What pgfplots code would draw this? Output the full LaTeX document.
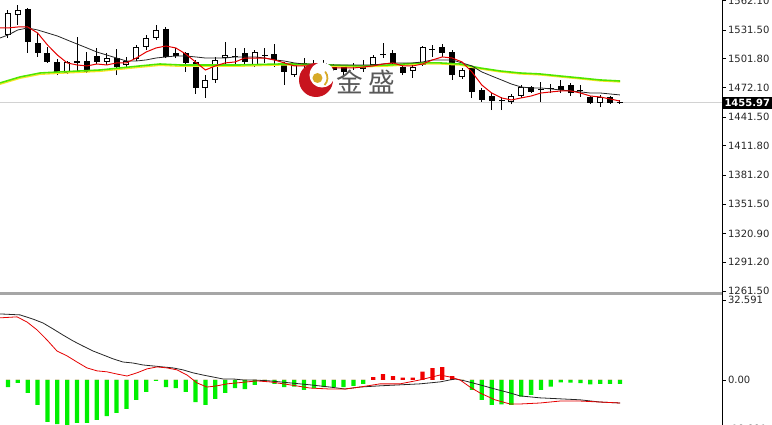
\documentclass[border=0pt]{standalone}
\usepackage{fontspec}
\setmainfont{DejaVu Sans}
\newfontfamily\cjk{Noto Sans CJK SC}
\usepackage{pgfplots}
\usepackage{pgfplotstable}
\pgfplotsset{compat=1.18}

\definecolor{maGreen}{RGB}{80,230,0}
\definecolor{maYellow}{RGB}{250,230,40}
\definecolor{histGreen}{RGB}{0,240,0}
\definecolor{histRed}{RGB}{240,0,0}
\definecolor{logoRed}{RGB}{200,20,30}
\definecolor{logoGold}{RGB}{215,170,40}

% candles: index, open, high, low, close
\pgfplotstableread{
i O H L C
0 1526.3 1552.2 1523.2 1549.1
1 1547.0 1557.4 1536.7 1552.2
2 1553.2 1554.3 1507.7 1519.1
3 1518.0 1528.4 1503.6 1507.7
4 1507.7 1513.9 1497.4 1498.4
5 1498.4 1501.5 1484.9 1487.0
6 1487.0 1499.4 1486.0 1498.4
7 1497.4 1524.2 1488.1 1499.4
8 1499.4 1508.7 1487.0 1488.1
9 1504.6 1512.9 1496.3 1498.4
10 1498.4 1507.7 1495.3 1502.5
11 1502.5 1511.8 1484.9 1493.2
12 1495.3 1503.6 1493.2 1499.4
13 1501.5 1516.0 1499.4 1513.9
14 1513.9 1526.3 1510.8 1523.2
15 1523.2 1536.7 1521.1 1531.5
16 1532.5 1534.6 1502.5 1503.6
17 1507.7 1512.9 1502.5 1504.6
18 1507.7 1508.7 1488.1 1497.4
19 1498.4 1500.5 1465.3 1471.5
20 1471.5 1484.9 1461.2 1479.8
21 1479.8 1503.6 1476.7 1500.5
22 1502.5 1519.1 1493.2 1505.6
23 1503.6 1512.9 1493.2 1504.6
24 1507.7 1512.9 1495.3 1498.4
25 1495.3 1510.8 1493.2 1508.7
26 1505.6 1512.9 1497.4 1504.6
27 1506.7 1517.0 1493.2 1500.5
28 1495.3 1498.4 1474.6 1488.1
29 1484.9 1497.4 1482.9 1495.3
30 1496.3 1502.5 1492.2 1497.4
31 1492.2 1500.5 1490.1 1496.3
32 1497.4 1500.5 1491.2 1494.3
33 1493.2 1496.3 1488.1 1490.1
34 1493.2 1495.3 1484.9 1488.1
35 1493.2 1497.4 1490.1 1494.3
36 1491.2 1500.5 1488.1 1493.2
37 1495.3 1505.6 1493.2 1503.6
38 1505.6 1518.0 1502.5 1506.7
39 1507.7 1510.8 1495.3 1497.4
40 1493.2 1496.3 1484.9 1487.0
41 1489.1 1495.3 1481.9 1493.2
42 1495.3 1514.9 1494.3 1513.9
43 1510.8 1516.0 1503.6 1511.8
44 1513.9 1517.0 1503.6 1507.7
45 1508.7 1510.8 1479.8 1484.9
46 1482.9 1492.2 1480.8 1490.1
47 1492.2 1493.2 1461.2 1467.4
48 1469.4 1471.5 1457.0 1459.1
49 1463.2 1466.3 1448.7 1458.0
50 1458.0 1462.2 1448.7 1459.1
51 1457.0 1465.3 1454.9 1463.2
52 1463.2 1474.6 1461.2 1472.5
53 1472.5 1473.6 1466.3 1467.4
54 1469.4 1477.7 1457.0 1470.5
55 1470.5 1475.6 1466.3 1471.5
56 1473.6 1479.8 1466.3 1469.4
57 1474.6 1476.7 1463.2 1466.3
58 1469.4 1474.6 1462.2 1468.4
59 1462.2 1463.2 1454.9 1456.0
60 1456.0 1464.3 1451.8 1462.2
61 1462.2 1463.2 1454.9 1456.0
62 1457.0 1459.1 1455.0 1455.97
}\ohlc

% moving averages
\pgfplotstableread{
i red black
-0.81 1533.6 1523.2
0 1533.6 1526.3
1 1534.6 1531.5
2 1534.6 1533.6
3 1528.4 1531.5
4 1516.0 1528.4
5 1505.6 1525.3
6 1497.4 1521.1
7 1495.3 1517.0
8 1494.3 1512.9
9 1496.3 1508.7
10 1495.3 1505.6
11 1497.4 1502.5
12 1497.4 1499.4
13 1502.5 1499.4
14 1508.7 1500.5
15 1512.9 1502.5
16 1514.9 1503.6
17 1512.9 1504.6
18 1506.7 1504.6
19 1498.4 1503.6
20 1490.1 1502.5
21 1494.3 1502.5
22 1497.4 1502.5
23 1498.4 1503.6
24 1502.5 1503.6
25 1502.5 1503.6
26 1502.5 1502.5
27 1500.5 1500.5
28 1497.4 1499.4
29 1494.3 1497.4
30 1494.3 1496.3
31 1494.3 1496.3
32 1494.3 1495.3
33 1492.2 1495.3
34 1492.2 1495.3
35 1492.2 1495.3
36 1493.2 1495.3
37 1494.3 1495.3
38 1496.3 1496.3
39 1497.4 1497.4
40 1494.3 1497.4
41 1494.3 1497.4
42 1496.3 1498.4
43 1500.5 1500.5
44 1503.6 1500.5
45 1502.5 1500.5
46 1498.4 1497.4
47 1488.1 1494.3
48 1474.6 1488.1
49 1466.3 1483.9
50 1461.2 1479.8
51 1459.1 1475.6
52 1461.2 1472.5
53 1463.2 1471.5
54 1466.3 1471.5
55 1467.4 1470.5
56 1468.4 1469.4
57 1468.4 1468.4
58 1466.3 1467.4
59 1463.2 1466.3
60 1462.2 1466.3
61 1460.1 1465.3
62 1458.0 1464.3
}\mas

\pgfplotstableread{
i green yellow
-0.81 1476.7 1475.3
1.22 1482.9 1481.5
3.24 1487.0 1485.6
5.27 1488.1 1486.7
7.29 1489.1 1487.7
9.32 1490.1 1488.7
11.35 1492.2 1490.8
13.37 1494.3 1492.9
15.40 1496.3 1494.9
17.43 1495.3 1493.9
19.45 1495.3 1493.9
23.51 1495.3 1494.0
27.56 1496.3 1495.2
29.58 1496.3 1495.2
32.62 1495.3 1494.2
35.66 1494.3 1493.2
38.70 1495.3 1494.2
41.74 1497.4 1496.3
43.77 1497.4 1496.3
45.80 1496.3 1495.2
47.82 1492.2 1491.2
49.85 1489.1 1488.1
51.87 1487.0 1486.0
53.90 1486.0 1485.0
55.93 1483.9 1482.9
57.95 1481.9 1480.9
59.98 1479.8 1478.8
62.01 1478.7 1477.7
}\slow

% MACD histogram
\pgfplotstableread{
i h
0 -2.9
1 -1.2
2 -5.3
3 -10.2
4 -17.1
5 -18.0
6 -18.3
7 -17.5
8 -17.5
9 -16.3
10 -14.7
11 -13.4
12 -11.8
13 -8.1
14 -4.9
15 -0.4
16 -2.9
17 -3.3
18 -4.9
19 -9.0
20 -10.2
21 -7.7
22 -5.3
23 -3.3
24 -3.7
25 -2.0
26 -0.6
27 -1.6
28 -2.9
29 -2.7
30 -4.1
31 -3.4
32 -2.9
33 -2.9
34 -2.9
35 -2.4
36 -1.6
37 1.1
38 2.4
39 1.6
40 0.9
41 0.9
42 3.4
43 4.8
44 5.2
45 1.6
46 0.0
47 -4.1
48 -8.1
49 -10.2
50 -10.0
51 -10.2
52 -6.8
53 -6.1
54 -4.1
55 -2.7
56 -1.0
57 -1.1
58 -1.3
59 -1.8
60 -1.6
61 -1.6
62 -1.6
}\hist

\pgfplotstableread{
i v
-0.81 26.9
1.22 26.5
2.53 24.8
3.55 23.2
4.56 20.8
5.57 18.3
6.59 15.9
7.60 13.8
8.61 11.8
9.63 10.2
10.64 8.6
11.65 7.3
12.66 6.9
13.68 6.1
14.69 5.7
15.70 5.3
16.72 4.9
17.73 4.1
18.74 2.9
19.76 2.0
20.77 1.2
21.78 0.4
22.80 0.4
23.81 0.0
24.82 0.0
26.55 -0.4
28.57 -1.2
30.60 -2.0
32.62 -2.9
34.14 -3.7
35.66 -2.9
37.69 -2.4
39.72 -2.0
41.74 -1.6
43.77 -0.8
45.29 0.4
46.30 -0.4
47.82 -2.0
49.34 -3.7
50.86 -5.3
51.87 -6.5
53.90 -7.3
55.93 -7.7
57.95 -8.1
59.98 -9.0
62.01 -9.4
}\macdblack

\pgfplotstableread{
i v
-0.81 25.3
0.91 25.7
1.93 23.6
2.94 20.4
3.95 16.3
4.96 11.8
5.98 9.8
6.99 7.3
8.00 4.9
9.02 3.7
10.03 3.3
11.04 2.4
12.06 1.6
13.07 2.9
14.08 4.5
15.10 5.3
16.11 4.9
17.12 4.1
18.14 2.0
19.15 -1.2
20.16 -2.9
21.18 -2.4
22.19 -1.6
23.20 -1.2
24.21 -0.8
25.23 -0.4
26.55 -0.8
28.57 -2.0
30.60 -3.3
32.62 -3.7
34.14 -3.7
35.66 -2.9
37.69 -1.6
39.72 -1.6
41.74 0.0
43.77 2.0
44.78 1.2
45.80 0.0
46.81 -2.9
47.82 -5.3
49.34 -8.1
50.86 -9.8
51.87 -9.8
53.90 -9.4
55.93 -8.6
57.95 -8.6
59.98 -9.0
62.01 -9.4
}\macdred

\pgfplotsset{
  panel/.style={
    scale only axis, width=541.5pt, anchor=south west,
    xmin=-0.81, xmax=72.34,
    axis x line=none, axis y line*=right,
    y axis line style={black, line width=0.75pt},
    tick align=outside, major tick length=3pt,
    ytick style={black, line width=0.6pt},
    yticklabel style={font=\fontsize{7.5}{9}\selectfont, text=black!85, anchor=west, xshift=-2pt},
  },
  candle/.style 2 args={draw=none, mark=none, forget plot,
    error bars/.cd, y dir=plus, y explicit, error mark=none,
    error bar style={draw=#1, line width=#2, line cap=butt}},
}

\begin{document}
\begin{tikzpicture}
\useasboundingbox (0,0) rectangle (579pt,318.75pt);
\clip (0,0) rectangle (579pt,318.75pt);

% price panel
\begin{axis}[panel, at={(0pt,100.5pt)}, height=218.25pt,
  ymin=1261.5, ymax=1562.5, clip=false,
  ytick={1261.5,1291.2,1320.9,1351.5,1381.2,1411.8,1441.5,1472.1,1501.8,1531.5,1562.1},
  yticklabels={1261.50,1291.20,1320.90,1351.50,1381.20,1411.80,1441.50,1472.10,1501.80,1531.50,1562.10}]
\addplot[gray!35, line width=0.75pt] coordinates {(-0.81,1455.97) (72.34,1455.97)};
% wicks
\addplot[candle={black}{0.75pt}]
  table[x=i, y=L, y error plus expr=\thisrow{H}-\thisrow{L}] {\ohlc};
% bodies
\addplot[candle={black}{4.5pt}]
  table[x=i, y expr={min(\thisrow{O},\thisrow{C})}, y error plus expr={abs(\thisrow{C}-\thisrow{O})}] {\ohlc};
% hollow inside of rising candles
\addplot[candle={white}{3pt}]
  table[x=i, y expr={\thisrow{O}+1.03}, y error plus expr={max(\thisrow{C}-\thisrow{O}-2.07,0)}] {\ohlc};
% moving averages
\addplot[maYellow, line width=1pt] table[x=i, y=yellow] {\slow};
\addplot[maGreen, line width=1.2pt] table[x=i, y=green] {\slow};
\addplot[black!85, line width=0.6pt] table[x=i, y=black] {\mas};
\addplot[red!90!black, line width=0.75pt] table[x=i, y=red] {\mas};
\node[fill=black, text=white, anchor=west, inner sep=1pt, minimum height=9.5pt,
  minimum width=37.5pt, font=\fontsize{7.5}{9}\selectfont\bfseries]
  at (axis cs:72.34,1455.97) {1455.97};
\end{axis}

% MACD panel
\begin{axis}[panel, at={(0pt,-3pt)}, height=99.75pt,
  ymin=-19.991, ymax=34.2,
  ytick={-19.991,0,32.591}, yticklabels={-19.991,0.00,32.591}]
\addplot[ybar, bar width=3.2pt, bar shift=0pt, fill=histGreen, draw=none]
  table[x=i, y expr={\thisrow{h}<0 ? \thisrow{h} : 0}] {\hist};
\addplot[ybar, bar width=3.2pt, bar shift=0pt, fill=histRed, draw=none]
  table[x=i, y expr={\thisrow{h}>0 ? \thisrow{h} : 0}] {\hist};
\addplot[black!85, line width=0.6pt] table[x=i, y=v] {\macdblack};
\addplot[red!90!black, line width=0.6pt] table[x=i, y=v] {\macdred};
\end{axis}

% panel separator and right axis line
\draw[gray!70, line width=2.25pt] (0,98.6pt) -- (541.5pt,98.6pt);
\draw[black, line width=0.75pt] (541.5pt,0) -- (541.5pt,318.75pt);

% watermark
\fill[logoRed] (237pt,258.75pt) circle (12.75pt);
\fill[white] (241.5pt,262.5pt) circle (9.4pt);
\fill[logoGold] (238.1pt,260.25pt) circle (3.75pt);
\draw[logoGold, line width=1.3pt] (238.1pt,260.25pt) ++(-45:7.5pt) arc (-45:40:7.5pt);
\node[text=black!65, font=\cjk\fontsize{20}{20}\selectfont] at (262.5pt,257.25pt) {金};
\node[text=black!65, font=\cjk\fontsize{20}{20}\selectfont] at (286.5pt,257.25pt) {盛};
\end{tikzpicture}
\end{document}
